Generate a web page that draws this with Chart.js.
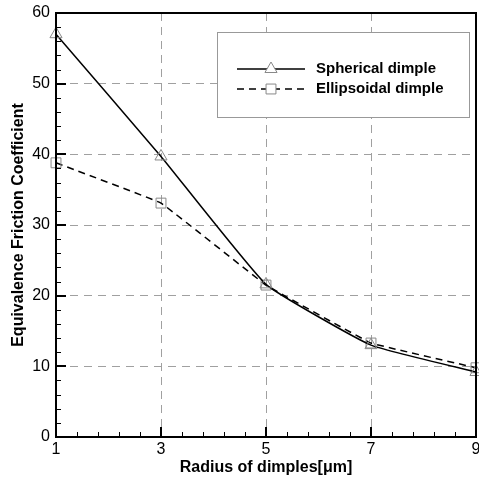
<!DOCTYPE html>
<html>
<head>
<meta charset="utf-8">
<script src="https://cdn.jsdelivr.net/npm/chart.js@4.4.1/dist/chart.umd.min.js"></script>
<style>
  html, body { margin: 0; padding: 0; background: #fff; overflow: hidden; }
  #wrap { width: 479px; height: 479px; }
  canvas { display: block; }
</style>
</head>
<body>
<div id="wrap"><canvas id="chart" width="479" height="479"></canvas></div>
<script>
// data
const radius = [1, 3, 5, 7, 9];
const spherical = [57.0, 39.7, 21.6, 13.0, 9.2];
const ellipsoidal = [38.8, 33.1, 21.5, 13.3, 9.8];
const xTicks = [1, 3, 5, 7, 9];
const yTicks = [0, 10, 20, 30, 40, 50, 60];
const seriesNames = ['Spherical dimple', 'Ellipsoidal dimple'];

const FONT = 'Liberation Sans, Arial, sans-serif';
const GRID = '#a0a0a0';
const MARK = '#888888';

// markers would otherwise push the plot area in by their radius
Chart.registry.getController('line').prototype.getMaxOverflow = function () { return 0; };

// inward ticks, frame and boxed legend
const framePlugin = {
    id: 'frame',
    afterDraw(chart) {
        const ctx = chart.ctx;
        const a = chart.chartArea;
        const xs = chart.scales.x, ys = chart.scales.y;
        ctx.save();
        ctx.strokeStyle = '#000';
        // minor ticks
        ctx.lineWidth = 1;
        ctx.beginPath();
        for (let v = 1; v < 9; v += 0.4) {
            const px = Math.round(xs.getPixelForValue(v)) + 0.5;
            ctx.moveTo(px, a.bottom); ctx.lineTo(px, a.bottom - 5);
        }
        for (let v = 0; v < 60; v += 2) {
            const py = Math.round(ys.getPixelForValue(v)) + 0.5;
            ctx.moveTo(a.left, py); ctx.lineTo(a.left + 5, py);
        }
        ctx.stroke();
        // major ticks
        ctx.lineWidth = 2;
        ctx.beginPath();
        xTicks.forEach(v => {
            const px = Math.round(xs.getPixelForValue(v));
            ctx.moveTo(px, a.bottom); ctx.lineTo(px, a.bottom - 10);
        });
        yTicks.forEach(v => {
            const py = Math.round(ys.getPixelForValue(v));
            ctx.moveTo(a.left, py); ctx.lineTo(a.left + 10, py);
        });
        ctx.stroke();
        // frame
        ctx.lineWidth = 2;
        ctx.strokeRect(a.left, a.top, a.right - a.left, a.bottom - a.top);

        // legend box
        const lx = 217, ly = 32, lw = 252, lh = 85;
        ctx.fillStyle = '#fff';
        ctx.fillRect(lx, ly, lw, lh);
        ctx.lineWidth = 1;
        ctx.strokeStyle = '#999';
        ctx.strokeRect(lx + 0.5, ly + 0.5, lw, lh);
        chart.data.datasets.forEach((ds, i) => {
            const y = 69 + i * 20;
            ctx.strokeStyle = '#000';
            ctx.lineWidth = 1.5;
            ctx.setLineDash(ds.borderDash || []);
            ctx.beginPath();
            ctx.moveTo(237, y); ctx.lineTo(305, y);
            ctx.stroke();
            ctx.setLineDash([]);
            ctx.fillStyle = '#fff';
            ctx.strokeStyle = MARK;
            ctx.lineWidth = 1;
            Chart.helpers.drawPoint(ctx, {
                pointStyle: ds.pointStyle, radius: ds.pointRadius, borderWidth: 1
            }, 271, y);
            ctx.fillStyle = '#000';
            ctx.font = 'bold 15px ' + FONT;
            ctx.textBaseline = 'middle';
            ctx.textAlign = 'left';
            ctx.fillText(seriesNames[i], 316, y);
        });
        ctx.restore();
    }
};

new Chart(document.getElementById('chart'), {
    type: 'line',
    data: {
        datasets: [{
            label: seriesNames[0],
            data: radius.map((r, i) => ({ x: r, y: spherical[i] })),
            borderColor: '#000',
            borderWidth: 1.5,
            tension: 0.12,
            clip: false,
            pointStyle: 'triangle',
            pointRadius: 7,
            pointBorderColor: MARK,
            pointBackgroundColor: 'rgba(0,0,0,0)',
            pointBorderWidth: 1
        }, {
            label: seriesNames[1],
            data: radius.map((r, i) => ({ x: r, y: ellipsoidal[i] })),
            borderColor: '#000',
            borderWidth: 1.5,
            borderDash: [7, 5],
            tension: 0.05,
            clip: false,
            pointStyle: 'rect',
            pointRadius: 7,
            pointBorderColor: MARK,
            pointBackgroundColor: 'rgba(0,0,0,0)',
            pointBorderWidth: 1
        }]
    },
    options: {
        responsive: false,
        animation: false,
        layout: { padding: { top: 13, right: 3, left: 0, bottom: 0 } },
        plugins: { legend: { display: false }, tooltip: { enabled: false } },
        scales: {
            x: {
                type: 'linear',
                min: 1, max: 9,
                afterBuildTicks: s => { s.ticks = xTicks.map(v => ({ value: v })); },
                afterFit: s => { s.height = 42; s.paddingLeft = 0; s.paddingRight = 0; },
                border: { display: false, dash: [8, 6] },
                grid: { color: GRID, lineWidth: 1, drawTicks: false },
                ticks: { color: '#000', padding: 3, font: { family: FONT, size: 16 } },
                title: {
                    display: true, text: 'Radius of dimples[μm]', color: '#000',
                    font: { family: FONT, size: 16, weight: 'bold' }, padding: { top: 0, bottom: 2 }
                }
            },
            y: {
                min: 0, max: 60,
                afterBuildTicks: s => { s.ticks = yTicks.map(v => ({ value: v })); },
                afterFit: s => { s.width = 56; s.paddingTop = 0; s.paddingBottom = 0; },
                border: { display: false, dash: [8, 6] },
                grid: { color: GRID, lineWidth: 1, drawTicks: false },
                ticks: { color: '#000', padding: 6, font: { family: FONT, size: 16 } },
                title: {
                    display: true, text: 'Equivalence Friction Coefficient', color: '#000',
                    font: { family: FONT, size: 16, weight: 'bold' }, padding: { top: 9, bottom: 0 }
                }
            }
        }
    },
    plugins: [framePlugin]
});
</script>
</body>
</html>
